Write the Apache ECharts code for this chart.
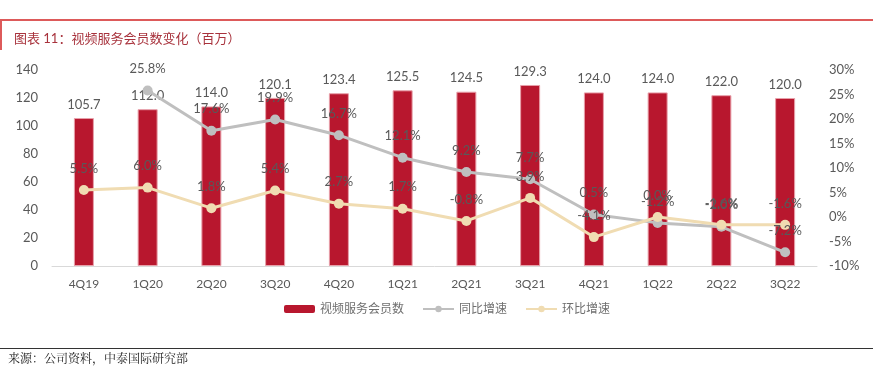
<!DOCTYPE html>
<html>
<head>
<meta charset="utf-8">
<script src="https://cdn.jsdelivr.net/npm/echarts@6/dist/echarts.min.js"></script>
<style>
  html, body { margin: 0; padding: 0; background: #fff; }
  #chart { width: 894px; height: 366px; }
</style>
</head>
<body>
<div id="chart"></div>
<script>
var quarters = ['4Q19', '1Q20', '2Q20', '3Q20', '4Q20', '1Q21', '2Q21', '3Q21', '4Q21', '1Q22', '2Q22', '3Q22']
var members = [105.7, 112.0, 114.0, 120.1, 123.4, 125.5, 124.5, 129.3, 124.0, 124.0, 122.0, 120.0]
var yoy = [null, 25.8, 17.6, 19.9, 16.7, 12.1, 9.2, 7.7, 0.5, -1.2, -2.0, -7.2]
var qoq = [5.5, 6.0, 1.8, 5.4, 2.7, 1.7, -0.8, 3.9, -4.1, 0.0, -1.6, -1.6]

var font = 'Lato, "Noto Sans CJK SC", sans-serif'
var grey = '#595959'

var chart = echarts.init(document.getElementById('chart'))
var option = {
  animation: false,
  textStyle: { fontFamily: font },
  title: {
    text: '图表 11：视频服务会员数变化（百万）',
    left: 9,
    top: 27,
    textStyle: { fontSize: 13, fontWeight: 'normal', color: '#a8323c', fontFamily: font }
  },
  graphic: [
    { type: 'rect', shape: { x: 0, y: 19, width: 873, height: 2 }, style: { fill: '#dd5a5a' } },
    { type: 'rect', shape: { x: 0, y: 19, width: 2, height: 31 }, style: { fill: '#dd5a5a' } },
    { type: 'rect', shape: { x: 0, y: 348, width: 873, height: 1 }, style: { fill: '#333' } },
    {
      type: 'text', left: 8, top: 352,
      style: { text: '来源：公司资料，中泰国际研究部', fontSize: 12, fill: '#222', fontFamily: '"Noto Serif CJK SC", "Noto Sans CJK SC", serif' }
    }
  ],
  legend: {
    bottom: 46,
    left: 'center',
    itemGap: 18,
    itemWidth: 31,
    itemHeight: 8,
    textStyle: { color: '#6f6f6f', fontSize: 12, fontFamily: font },
    data: [
      { name: '视频服务会员数', itemStyle: { borderWidth: 0 } },
      '同比增速',
      '环比增速'
    ]
  },
  grid: { left: 52, right: 77, top: 70, bottom: 100 },
  xAxis: {
    type: 'category',
    data: quarters,
    axisLine: { lineStyle: { color: '#d9d9d9', width: 1 } },
    axisTick: { show: false },
    axisLabel: { color: grey, fontSize: 12, margin: 12 }
  },
  yAxis: [
    {
      type: 'value', min: 0, max: 140, interval: 20,
      splitLine: { show: false },
      axisLine: { show: false },
      axisTick: { show: false },
      axisLabel: { color: grey, fontSize: 13, margin: 14 }
    },
    {
      type: 'value', min: -10, max: 30, interval: 5,
      splitLine: { show: false },
      axisLine: { show: false },
      axisTick: { show: false },
      axisLabel: { color: grey, fontSize: 13, margin: 12, formatter: '{value}%' }
    }
  ],
  series: [
    {
      name: '视频服务会员数',
      type: 'bar',
      data: members,
      barWidth: 20,
      itemStyle: { color: '#b8172e', borderColor: '#e8a0aa', borderWidth: 1 },
      label: {
        show: true, position: 'top', distance: 7,
        color: grey, fontSize: 13,
        formatter: function (p) { return p.value.toFixed(1) }
      }
    },
    {
      name: '同比增速',
      type: 'line',
      yAxisIndex: 1,
      data: yoy,
      symbol: 'circle',
      symbolSize: 10,
      lineStyle: { color: '#bfbfbf', width: 3 },
      itemStyle: { color: '#bfbfbf' },
      label: {
        show: true, position: 'top', distance: 10,
        color: grey, fontSize: 13,
        formatter: function (p) { return p.value.toFixed(1) + '%' }
      }
    },
    {
      name: '环比增速',
      type: 'line',
      yAxisIndex: 1,
      data: qoq,
      symbol: 'circle',
      symbolSize: 10,
      lineStyle: { color: '#f0dcb2', width: 3 },
      itemStyle: { color: '#f0dcb2' },
      label: {
        show: true, position: 'top', distance: 10,
        color: grey, fontSize: 13,
        formatter: function (p) { return p.value.toFixed(1) + '%' }
      }
    }
  ]
}
chart.setOption(option)
</script>
</body>
</html>
